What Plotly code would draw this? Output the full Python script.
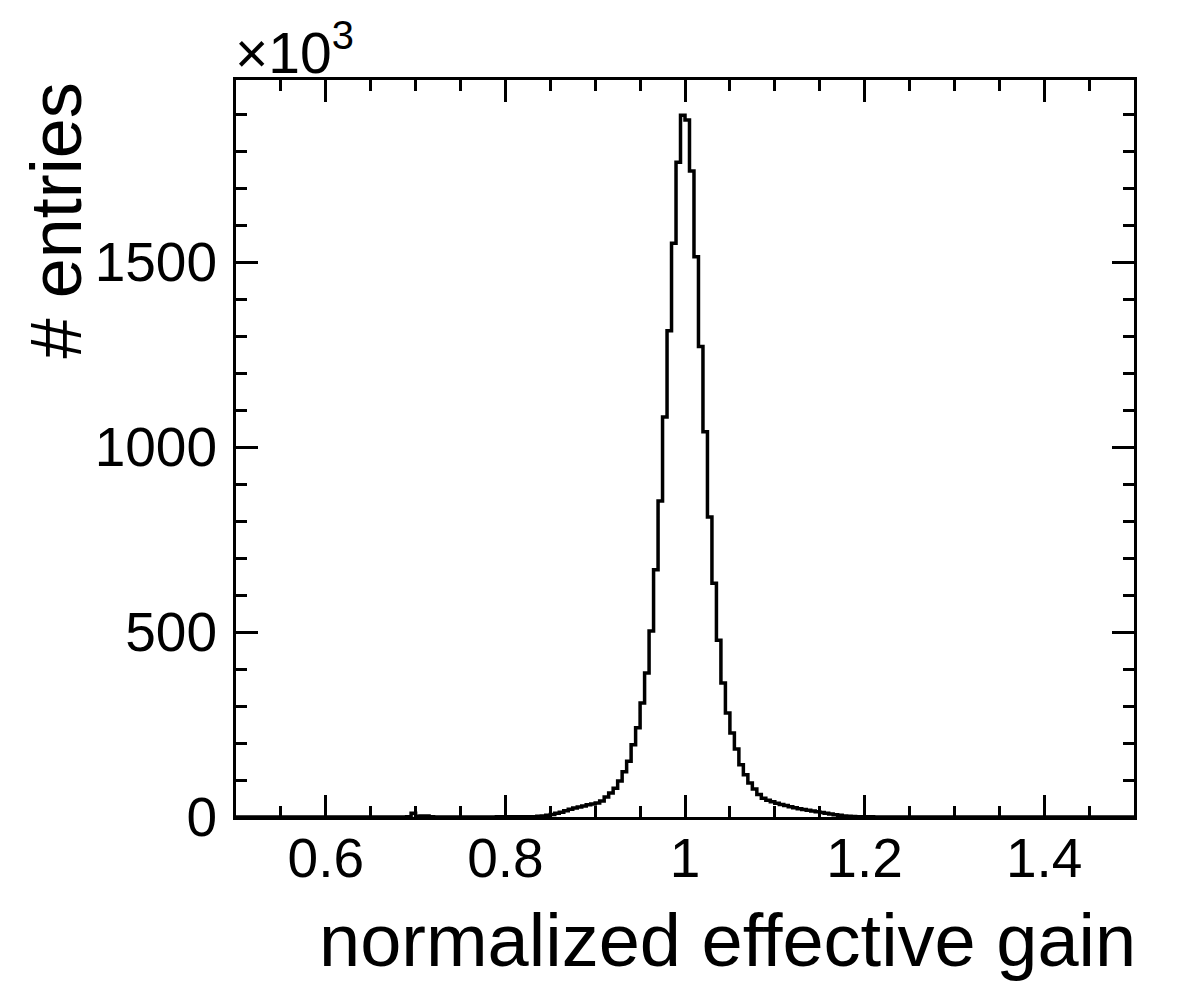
import numpy as np
import plotly.graph_objects as go

# histogram: 200 bins of width 0.005 from 0.5 to 1.5, counts in units of 10^3
x_min, x_max, n_bins = 0.5, 1.5, 200
counts = [
    0, 0, 0, 0, 0, 0, 0, 0, 0, 0,                       # 0.50
    0, 0, 0, 0, 0, 0, 0, 0, 0, 0,                       # 0.55
    0, 0, 0, 0, 0, 0, 0, 0, 0, 0,                       # 0.60
    0, 0, 0, 0, 0, 0, 0, 0, 1, 10,                      # 0.65
    2, 3, 3, 1, 0, 0, 0, 0, 0, 0,                       # 0.70
    0, 0, 0, 0, 0, 0, 0, 0, 1, 1,                       # 0.75
    1, 1, 1, 1, 1, 1, 1, 2, 3, 5,                       # 0.80
    7, 10, 13, 17, 21, 24, 27, 30, 33, 35,              # 0.85
    38, 43, 54, 65, 78, 97, 122, 151, 195, 241,         # 0.90
    308, 389, 503, 668, 854, 1081, 1314, 1551, 1770, 1897,  # 0.95
    1884, 1746, 1514, 1272, 1041, 811, 632, 478, 362, 281,  # 1.00
    227, 184, 141, 114, 92, 76, 61, 51, 45, 41,         # 1.05
    37, 34, 31, 28, 25, 22, 20, 18, 16, 14,             # 1.10
    12, 10, 8, 6, 5, 3, 2, 1.5, 1, 1,                   # 1.15
    0.5, 0.5, 0, 0, 0, 0, 0, 0, 0, 0,                   # 1.20
    0, 0, 0, 0, 0, 0, 0, 0, 0, 0,                       # 1.25
    0, 0, 0, 0, 0, 0, 0, 0, 0, 0,                       # 1.30
    0, 0, 0, 0, 0, 0, 0, 0, 0, 0,                       # 1.35
    0, 0, 0, 0, 0, 0, 0, 0, 0, 0,                       # 1.40
    0, 0, 0, 0, 0, 0, 0, 0, 0, 0,                       # 1.45
]
x_tickvals = [0.6, 0.8, 1.0, 1.2, 1.4]
x_ticktext = ["0.6", "0.8", "1", "1.2", "1.4"]
y_tickvals = [0, 500, 1000, 1500]
y_ticktext = ["0", "500", "1000", "1500"]
y_max = 1992

edges = np.linspace(x_min, x_max, n_bins + 1)
xs = list(edges)
ys = list(counts) + [counts[-1]]

FONT = "Liberation Sans"

fig = go.Figure()
fig.add_trace(go.Scatter(x=xs, y=ys, mode="lines", line=dict(shape="hv", color="black", width=3.5),
                         showlegend=False, hoverinfo="skip"))

axis_common = dict(
    showline=True, linewidth=3, linecolor="black", mirror="allticks",
    ticks="inside", tickwidth=3, tickcolor="black", ticklen=22,
    showgrid=False, zeroline=False,
    tickfont=dict(family=FONT, size=55, color="black"),
)

fig.update_xaxes(range=[x_min, x_max], tickmode="array", tickvals=x_tickvals, ticktext=x_ticktext,
                 minor=dict(ticks="inside", ticklen=11, tickwidth=3, tickcolor="black", dtick=0.05, tick0=0.5),
                 ticklabelstandoff=-9, **axis_common)
fig.update_yaxes(range=[0, y_max], tickmode="array", tickvals=y_tickvals, ticktext=y_ticktext,
                 minor=dict(ticks="inside", ticklen=11, tickwidth=3, tickcolor="black", dtick=100, tick0=0),
                 ticklabelstandoff=5, **axis_common)

fig.update_layout(
    width=1182, height=998,
    margin=dict(l=236, r=48, t=80, b=181),
    paper_bgcolor="white", plot_bgcolor="white",
    font=dict(family=FONT, color="black"),
    annotations=[
        dict(text="normalized effective gain", xref="paper", yref="paper", x=1.004, y=-0.108,
             xanchor="right", yanchor="top", showarrow=False, font=dict(size=74, family=FONT)),
        dict(text="# entries", xref="paper", yref="paper", x=-0.20, y=1.0, textangle=-90,
             xanchor="center", yanchor="top", showarrow=False, font=dict(size=72, family=FONT)),
        dict(text="×10<sup>3</sup>", xref="paper", yref="paper", x=-0.003, y=0.99,
             xanchor="left", yanchor="bottom", showarrow=False, font=dict(size=57, family=FONT)),
    ],
)

fig.write_html("out.html")
